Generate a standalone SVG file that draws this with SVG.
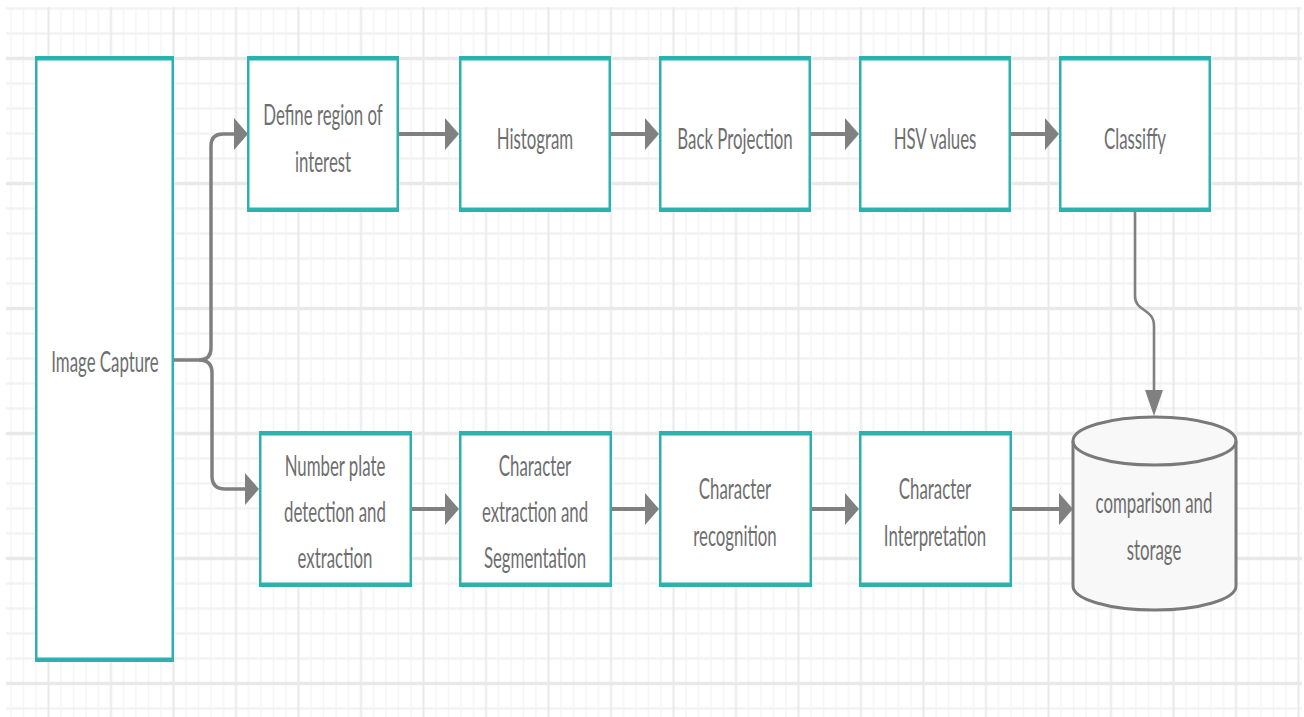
<svg xmlns="http://www.w3.org/2000/svg" width="1304" height="717" viewBox="0 0 1304 717">
<style>
.frame{fill:#2ab2af}
.face{fill:#ffffff}
.lbl{font-family:Lato,"Open Sans","Liberation Sans",sans-serif;font-size:29px;fill:#6e6e6e;text-anchor:middle}
.wire{fill:none;stroke:#808080;stroke-linecap:butt;stroke-linejoin:round}
.head{fill:#808080}
.gmin{stroke:#f3f3f3}
.gmaj{stroke:#e9e9e9}
</style>
<defs>
<pattern id="grid" patternUnits="userSpaceOnUse" x="17.25" y="-4" width="62.5" height="125">
<g class="gmin" stroke-width="2.5">
<line x1="0" y1="12.5" x2="62.5" y2="12.5"/>
<line x1="0" y1="37.5" x2="62.5" y2="37.5"/>
<line x1="0" y1="87.5" x2="62.5" y2="87.5"/>
<line x1="0" y1="112.5" x2="62.5" y2="112.5"/>
</g>
<g class="gmin" stroke-width="1.3">
<line x1="6.25" y1="0" x2="6.25" y2="125"/>
<line x1="18.75" y1="0" x2="18.75" y2="125"/>
<line x1="43.75" y1="0" x2="43.75" y2="125"/>
<line x1="56.25" y1="0" x2="56.25" y2="125"/>
</g>
<line class="gmaj" x1="0" y1="62.5" x2="62.5" y2="62.5" stroke-width="3.5"/>
<line class="gmaj" x1="31.25" y1="0" x2="31.25" y2="125" stroke-width="2"/>
</pattern>
</defs>
<rect x="0" y="0" width="1304" height="717" fill="#ffffff"/>
<rect x="6" y="7" width="1296" height="710" fill="url(#grid)"/>

<g id="connectors">
<path class="wire" stroke-width="3.5" d="M174,360 H199 Q211,360 211,348 V146 Q211,134 223,134 H236"/>
<polygon class="head" points="234,118 248,134 234,150"/>
<path class="wire" stroke-width="3.5" d="M199,360 Q212,360 212,373 V476 Q212,489 225,489 H247"/>
<polygon class="head" points="245,473 259,489 245,505"/>
<path class="wire" stroke-width="4" d="M399,134 H447"/>
<polygon class="head" points="445,118 459,134 445,150"/>
<path class="wire" stroke-width="4" d="M611,134 H647"/>
<polygon class="head" points="645,118 659,134 645,150"/>
<path class="wire" stroke-width="4" d="M811,134 H847"/>
<polygon class="head" points="845,118 859,134 845,150"/>
<path class="wire" stroke-width="4" d="M1011,134 H1047"/>
<polygon class="head" points="1045,118 1059,134 1045,150"/>
<path class="wire" stroke-width="2.6" d="M1135,212 V296 C1135,312 1154,308 1154,326 V393"/>
<polygon class="head" points="1145,390 1163,390 1154,416"/>
<path class="wire" stroke-width="4" d="M412,509 H447"/>
<polygon class="head" points="445,493 459,509 445,525"/>
<path class="wire" stroke-width="4" d="M612,509 H647"/>
<polygon class="head" points="645,493 659,509 645,525"/>
<path class="wire" stroke-width="4" d="M812,509 H847"/>
<polygon class="head" points="845,493 859,509 845,525"/>
<path class="wire" stroke-width="4" d="M1012,509 H1061"/>
<polygon class="head" points="1059,493 1073,509 1059,525"/>
</g>

<g id="image-capture">
<rect class="frame" x="35" y="56" width="139" height="606"/>
<rect class="face" x="37.5" y="60.5" width="134" height="597"/>
<text class="lbl" transform="translate(105,372) scale(0.58,1)">Image Capture</text>
</g>

<g id="define-roi">
<rect class="frame" x="247" y="56" width="152" height="156"/>
<rect class="face" x="249.5" y="60.5" width="147" height="147"/>
<text class="lbl" transform="translate(323,125) scale(0.58,1)">Define region of</text>
<text class="lbl" transform="translate(323,172) scale(0.58,1)">interest</text>
</g>

<g id="histogram">
<rect class="frame" x="459" y="56" width="152" height="156"/>
<rect class="face" x="461.5" y="60.5" width="147" height="147"/>
<text class="lbl" transform="translate(535,149) scale(0.58,1)">Histogram</text>
</g>

<g id="back-projection">
<rect class="frame" x="659" y="56" width="152" height="156"/>
<rect class="face" x="661.5" y="60.5" width="147" height="147"/>
<text class="lbl" transform="translate(735,149) scale(0.58,1)">Back Projection</text>
</g>

<g id="hsv-values">
<rect class="frame" x="859" y="56" width="152" height="156"/>
<rect class="face" x="861.5" y="60.5" width="147" height="147"/>
<text class="lbl" transform="translate(935,149) scale(0.58,1)">HSV values</text>
</g>

<g id="classify">
<rect class="frame" x="1059" y="56" width="152" height="156"/>
<rect class="face" x="1061.5" y="60.5" width="147" height="147"/>
<text class="lbl" transform="translate(1135,149) scale(0.58,1)">Classiffy</text>
</g>

<g id="number-plate">
<rect class="frame" x="259" y="431" width="153" height="156"/>
<rect class="face" x="261.5" y="435.5" width="148" height="147"/>
<text class="lbl" transform="translate(335,476) scale(0.58,1)">Number plate</text>
<text class="lbl" transform="translate(335,522) scale(0.58,1)">detection and</text>
<text class="lbl" transform="translate(335,568) scale(0.58,1)">extraction</text>
</g>

<g id="char-extraction">
<rect class="frame" x="459" y="431" width="153" height="156"/>
<rect class="face" x="461.5" y="435.5" width="148" height="147"/>
<text class="lbl" transform="translate(535,476) scale(0.58,1)">Character</text>
<text class="lbl" transform="translate(535,522) scale(0.58,1)">extraction and</text>
<text class="lbl" transform="translate(535,568) scale(0.58,1)">Segmentation</text>
</g>

<g id="char-recognition">
<rect class="frame" x="659" y="431" width="153" height="156"/>
<rect class="face" x="661.5" y="435.5" width="148" height="147"/>
<text class="lbl" transform="translate(735,499) scale(0.58,1)">Character</text>
<text class="lbl" transform="translate(735,546) scale(0.58,1)">recognition</text>
</g>

<g id="char-interpretation">
<rect class="frame" x="859" y="431" width="153" height="156"/>
<rect class="face" x="861.5" y="435.5" width="148" height="147"/>
<text class="lbl" transform="translate(935,499) scale(0.58,1)">Character</text>
<text class="lbl" transform="translate(935,546) scale(0.58,1)">Interpretation</text>
</g>

<g id="storage">
<path d="M1073,441 V586 A81.5,24 0 0 0 1236,586 V441 A81.5,24 0 0 0 1073,441 Z" fill="#f8f8f8" stroke="#7a7a7a" stroke-width="3"/>
<path d="M1073,441 A81.5,24 0 0 0 1236,441" fill="none" stroke="#7a7a7a" stroke-width="3"/>
<text class="lbl" transform="translate(1154,513) scale(0.58,1)">comparison and</text>
<text class="lbl" transform="translate(1154,560) scale(0.58,1)">storage</text>
</g>
</svg>
